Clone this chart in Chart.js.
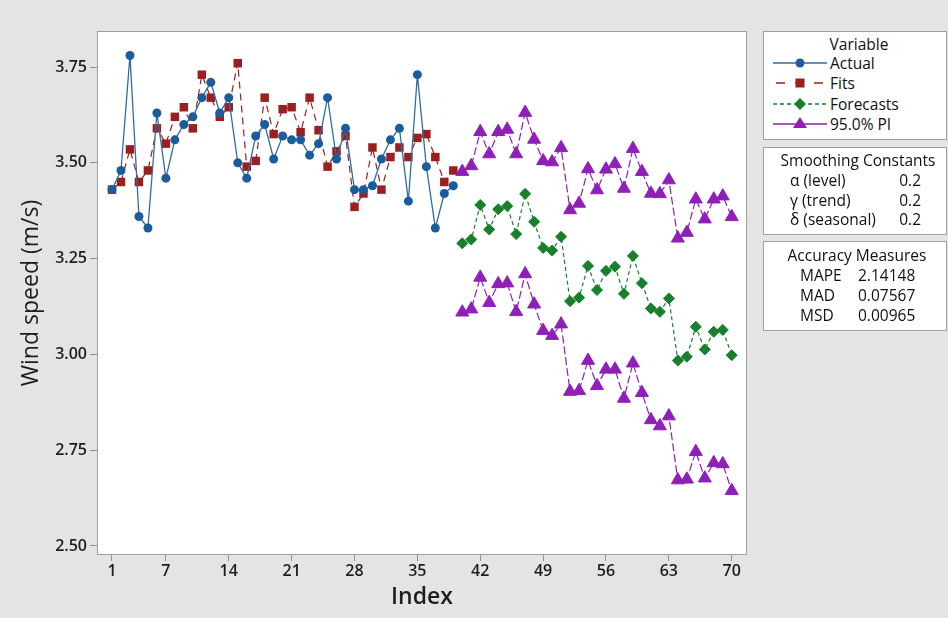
<!DOCTYPE html>
<html>
<head>
<meta charset="utf-8">
<script src="https://cdn.jsdelivr.net/npm/chart.js@4.4.0/dist/chart.umd.min.js"></script>
<style>
body { margin: 0; background: #e4e4e4; font-family: 'Open Sans', sans-serif; }
#wrap { position: relative; width: 948px; height: 618px; }
.box { position: absolute; left: 763px; width: 184px; background: #fff; border: 1px solid #a0a0a0; box-sizing: border-box; }
.t { position: absolute; font-size: 15.5px; line-height: 20px; color: #111; white-space: nowrap; }
.c { transform: translateX(-50%); }
.r { text-align: right; }
svg.sym { position: absolute; }
</style>
</head>
<body>
<div id="wrap">
  <canvas id="chart" width="948" height="618"></canvas>

  <div class="box" style="top:31px;height:109px"></div>
  <div class="t c" style="left:859px;top:34px">Variable</div>
  <svg class="sym" style="left:773px;top:53px" width="54" height="20">
    <line x1="0" y1="10" x2="54" y2="10" stroke="#2f6da3" stroke-width="1.3"/>
    <circle cx="27" cy="10" r="4.5" fill="#1a5c9c"/>
  </svg>
  <div class="t" style="left:830px;top:53px">Actual</div>
  <svg class="sym" style="left:773px;top:73px" width="54" height="20">
    <line x1="0" y1="10" x2="54" y2="10" stroke="#9c1f1f" stroke-width="1.3" stroke-dasharray="9,10" stroke-dashoffset="-3"/>
    <rect x="22.5" y="5.5" width="9" height="9" fill="#9c1f1f"/>
  </svg>
  <div class="t" style="left:830px;top:73px">Fits</div>
  <svg class="sym" style="left:773px;top:94px" width="54" height="20">
    <line x1="0" y1="10" x2="54" y2="10" stroke="#17802c" stroke-width="1.3" stroke-dasharray="4,3"/>
    <polygon points="27,4 33,10 27,16 21,10" fill="#17802c"/>
  </svg>
  <div class="t" style="left:830px;top:94px">Forecasts</div>
  <svg class="sym" style="left:773px;top:114px" width="54" height="20">
    <line x1="0" y1="10" x2="54" y2="10" stroke="#8f1fb8" stroke-width="1.3"/>
    <polygon points="27,3 34,14 20,14" fill="#8f1fb8"/>
  </svg>
  <div class="t" style="left:830px;top:114px">95.0% PI</div>

  <div class="box" style="top:147px;height:88px"></div>
  <div class="t c" style="left:858px;top:150px">Smoothing Constants</div>
  <div class="t" style="left:790px;top:170px">α (level)</div>
  <div class="t r" style="right:27px;top:170px">0.2</div>
  <div class="t" style="left:790px;top:190px">γ (trend)</div>
  <div class="t r" style="right:27px;top:190px">0.2</div>
  <div class="t" style="left:790px;top:209px">δ (seasonal)</div>
  <div class="t r" style="right:27px;top:209px">0.2</div>

  <div class="box" style="top:241px;height:90px"></div>
  <div class="t c" style="left:857px;top:245px">Accuracy Measures</div>
  <div class="t" style="left:800px;top:265px">MAPE</div>
  <div class="t" style="left:858px;top:265px">2.14148</div>
  <div class="t" style="left:800px;top:285px">MAD</div>
  <div class="t" style="left:858px;top:285px">0.07567</div>
  <div class="t" style="left:800px;top:305px">MSD</div>
  <div class="t" style="left:858px;top:305px">0.00965</div>
</div>

<script>
// Winters' method output, index 1..39 observed, 40..70 forecast
var xTicks = [1, 7, 14, 21, 28, 35, 42, 49, 56, 63, 70];
var yTicks = [2.50, 2.75, 3.00, 3.25, 3.50, 3.75];

var actualStart = 1;
var actual = [3.43, 3.48, 3.78, 3.36, 3.33, 3.63, 3.46, 3.56, 3.60, 3.62,
              3.67, 3.71, 3.63, 3.67, 3.50, 3.46, 3.57, 3.60, 3.51, 3.57,
              3.56, 3.56, 3.52, 3.55, 3.67, 3.51, 3.59, 3.43, 3.43, 3.44,
              3.51, 3.56, 3.59, 3.40, 3.73, 3.49, 3.33, 3.42, 3.44];

var fitsStart = 1;
var fits = [3.43, 3.45, 3.535, 3.45, 3.48, 3.59, 3.55, 3.62, 3.645, 3.59,
            3.73, 3.67, 3.62, 3.645, 3.76, 3.49, 3.505, 3.67, 3.575, 3.64,
            3.645, 3.58, 3.67, 3.585, 3.49, 3.53, 3.57, 3.385, 3.42, 3.54,
            3.43, 3.515, 3.54, 3.515, 3.565, 3.575, 3.515, 3.45, 3.48];

var forecastStart = 40;
var forecasts = [3.290, 3.300, 3.390, 3.326, 3.379, 3.387, 3.314, 3.419, 3.346, 3.278,
                 3.271, 3.307, 3.139, 3.148, 3.231, 3.168, 3.218, 3.229, 3.158, 3.257,
                 3.186, 3.120, 3.111, 3.146, 2.984, 2.994, 3.072, 3.013, 3.059, 3.064,
                 2.998];
var upperPI = [3.477, 3.492, 3.581, 3.523, 3.581, 3.587, 3.523, 3.631, 3.561, 3.505,
               3.502, 3.539, 3.377, 3.394, 3.484, 3.429, 3.483, 3.497, 3.433, 3.537,
               3.477, 3.420, 3.419, 3.455, 3.303, 3.318, 3.405, 3.353, 3.405, 3.413,
               3.359];
var lowerPI = [3.110, 3.118, 3.201, 3.135, 3.184, 3.186, 3.111, 3.210, 3.131, 3.062,
               3.049, 3.079, 2.903, 2.905, 2.984, 2.918, 2.961, 2.961, 2.885, 2.977,
               2.900, 2.829, 2.813, 2.839, 2.672, 2.674, 2.746, 2.677, 2.717, 2.714,
               2.644];

var toPoints = function (start, values) {
    return values.map(function (v, i) { return {x: start + i, y: v}; });
};

var tickFont = {family: 'Open Sans', size: 16, weight: '600'};

var plotFrame = {
    id: 'plotFrame',
    beforeDraw: function (chart) {
        var a = chart.chartArea, ctx = chart.ctx;
        ctx.save();
        ctx.fillStyle = '#ffffff';
        ctx.fillRect(a.left, a.top, a.right - a.left, a.bottom - a.top);
        ctx.restore();
    },
    afterDraw: function (chart) {
        var a = chart.chartArea, ctx = chart.ctx;
        ctx.save();
        ctx.strokeStyle = '#a0a0a0';
        ctx.lineWidth = 1;
        ctx.strokeRect(a.left + 0.5, a.top + 0.5, a.right - a.left - 1, a.bottom - a.top - 1);
        ctx.restore();
    }
};

var piStyle = {
    borderColor: '#8f1fb8', backgroundColor: '#8f1fb8',
    pointStyle: 'triangle', pointRadius: 7.5, pointBorderWidth: 1,
    borderWidth: 1.2, borderDash: [8, 3]
};

new Chart(document.getElementById('chart').getContext('2d'), {
    type: 'line',
    data: {
        datasets: [
            Object.assign({label: '95.0% PI', data: toPoints(forecastStart, upperPI)}, piStyle),
            Object.assign({label: '95.0% PI lower', data: toPoints(forecastStart, lowerPI)}, piStyle),
            {
                label: 'Forecasts', data: toPoints(forecastStart, forecasts),
                borderColor: '#17802c', backgroundColor: '#17802c',
                pointStyle: 'rectRot', pointRadius: 5.5, pointBorderWidth: 1,
                borderWidth: 1.2, borderDash: [4, 3]
            },
            {
                label: 'Actual', data: toPoints(actualStart, actual),
                borderColor: '#2f6da3', backgroundColor: '#1a5c9c', pointBorderColor: '#1a5c9c',
                pointStyle: 'circle', pointRadius: 4.5, pointBorderWidth: 0,
                borderWidth: 1.3
            },
            {
                label: 'Fits', data: toPoints(fitsStart, fits),
                borderColor: '#9c1f1f', backgroundColor: '#9c1f1f',
                pointStyle: 'rect', pointRadius: 6, pointBorderWidth: 0,
                borderWidth: 1.2, borderDash: [7, 5]
            }
        ]
    },
    options: {
        responsive: false,
        animation: false,
        layout: {padding: {left: 0, top: 31, right: 201, bottom: 0}},
        plugins: {legend: {display: false}, tooltip: {enabled: false}},
        elements: {line: {tension: 0}},
        scales: {
            x: {
                type: 'linear', min: -0.67, max: 71.7,
                afterBuildTicks: function (s) { s.ticks = xTicks.map(function (v) { return {value: v}; }); },
                afterFit: function (s) { s.height = 63; },
                grid: {drawOnChartArea: false, tickLength: 6, color: '#909090'},
                border: {display: false},
                ticks: {autoSkip: false, maxRotation: 0, padding: 1, color: '#1e1e1e', font: tickFont},
                title: {display: true, text: 'Index', color: '#1e1e1e',
                        font: {family: 'Open Sans', size: 23, weight: '600'}, padding: {top: 0, bottom: 7}}
            },
            y: {
                type: 'linear', min: 2.4765, max: 3.844,
                afterBuildTicks: function (s) { s.ticks = yTicks.map(function (v) { return {value: v}; }); },
                afterFit: function (s) { s.width = 97; },
                grid: {drawOnChartArea: false, tickLength: 7, color: '#909090'},
                border: {display: false},
                ticks: {padding: 3, color: '#1e1e1e', font: tickFont,
                        callback: function (v) { return v.toFixed(2); }},
                title: {display: true, text: 'Wind speed (m/s)', color: '#1e1e1e',
                        font: {family: 'Open Sans', size: 23, weight: '400'}, padding: {top: 18, bottom: 0}}
            }
        }
    },
    plugins: [plotFrame]
});
</script>
</body>
</html>
